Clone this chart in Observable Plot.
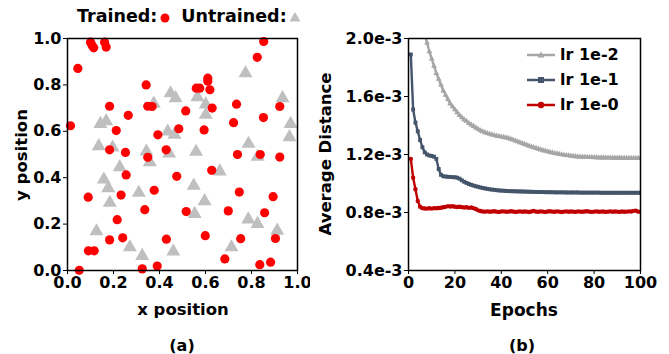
<!DOCTYPE html>
<html><head><meta charset="utf-8">
<script src="https://cdn.jsdelivr.net/npm/d3@7"></script>
<script src="https://cdn.jsdelivr.net/npm/@observablehq/plot@0.6"></script>
<style>
body{margin:0;background:#fff;}
#wrap{position:relative;width:669px;height:354px;font-family:"DejaVu Sans",sans-serif;font-weight:bold;color:#000;overflow:hidden;background:#fff}
#left{position:absolute;left:0;top:0}
#right{position:absolute;left:310px;top:0}
.t{position:absolute;white-space:nowrap;transform:translate(-50%,-50%);line-height:1}
.leg{position:absolute;white-space:nowrap;font-size:16px;line-height:1;display:flex;align-items:center}
</style></head>
<body>
<div id="wrap">
  <div id="left"></div>
  <div id="right"></div>
</div>
<script>
// ---- Panel (a): scatter of positions ----
const trainedX = [0.100,0.107,0.114,0.161,0.168,0.045,0.342,0.183,0.349,0.368,0.264,0.013,0.212,0.393,0.484,0.183,0.252,0.429,0.349,0.853,0.825,0.610,0.610,0.560,0.575,0.619,0.514,0.629,0.735,0.923,0.852,0.722,0.594,0.739,0.838,0.923,0.255,0.475,0.090,0.233,0.377,0.336,0.216,0.183,0.240,0.430,0.091,0.116,0.051,0.325,0.390,0.627,0.747,0.894,0.516,0.699,0.857,0.599,0.753,0.904,0.684,0.836,0.883];
const trainedY = [0.984,0.970,0.960,0.984,0.963,0.871,0.800,0.708,0.708,0.707,0.669,0.624,0.603,0.585,0.611,0.520,0.509,0.520,0.488,0.987,0.919,0.829,0.816,0.786,0.786,0.779,0.688,0.700,0.717,0.707,0.659,0.637,0.606,0.500,0.500,0.489,0.412,0.406,0.316,0.325,0.346,0.262,0.219,0.132,0.141,0.135,0.085,0.085,0.001,0.007,0.019,0.432,0.338,0.318,0.254,0.257,0.249,0.150,0.137,0.138,0.050,0.025,0.036];
const untrainedX = [0.448,0.470,0.375,0.143,0.168,0.136,0.196,0.343,0.442,0.436,0.465,0.774,0.565,0.601,0.601,0.935,0.970,0.965,0.787,0.559,0.358,0.227,0.158,0.177,0.184,0.310,0.126,0.271,0.325,0.460,0.827,0.662,0.549,0.596,0.553,0.786,0.826,0.912,0.713];
const untrainedY = [0.764,0.743,0.719,0.632,0.644,0.536,0.530,0.513,0.504,0.599,0.585,0.850,0.747,0.716,0.671,0.743,0.632,0.575,0.546,0.512,0.467,0.445,0.392,0.355,0.292,0.335,0.169,0.100,0.063,0.082,0.491,0.427,0.366,0.299,0.244,0.220,0.201,0.172,0.100];
const posTicks = [0, 0.2, 0.4, 0.6, 0.8, 1.0];
const posTickLabels = ["0.0","0.2","0.4","0.6","0.8","1.0"];

// ---- Panel (b): average distance per epoch (units of 1e-3) ----
const epochs = d3.range(1, 101);
const lr1e2 = [2.50,2.41,2.32,2.24,2.16,2.09,2.03,1.97,1.91,1.86,
1.81,1.76,1.72,1.68,1.64,1.61,1.58,1.55,1.53,1.51,
1.49,1.47,1.455,1.44,1.43,1.415,1.405,1.395,1.385,1.375,
1.365,1.358,1.352,1.346,1.341,1.336,1.332,1.328,1.325,1.322,
1.319,1.316,1.312,1.307,1.301,1.295,1.289,1.283,1.277,1.271,
1.265,1.259,1.253,1.248,1.243,1.238,1.233,1.228,1.224,1.220,
1.216,1.212,1.208,1.205,1.202,1.199,1.196,1.194,1.192,1.190,
1.188,1.186,1.185,1.184,1.183,1.182,1.181,1.180,1.180,1.179,
1.179,1.178,1.178,1.178,1.177,1.177,1.177,1.176,1.176,1.176,
1.176,1.175,1.175,1.175,1.175,1.174,1.174,1.174,1.174,1.174];
const lr1e1 = [1.89,1.51,1.42,1.36,1.30,1.25,1.215,1.20,1.193,1.19,
1.185,1.17,1.10,1.06,1.05,1.048,1.046,1.045,1.044,1.043,
1.040,1.033,1.022,1.012,1.004,0.997,0.991,0.986,0.981,0.977,
0.973,0.969,0.966,0.963,0.960,0.958,0.956,0.954,0.952,0.951,
0.950,0.949,0.948,0.947,0.947,0.946,0.946,0.945,0.945,0.944,
0.944,0.943,0.943,0.942,0.942,0.941,0.941,0.941,0.940,0.940,
0.940,0.940,0.939,0.939,0.939,0.939,0.939,0.938,0.938,0.938,
0.938,0.938,0.938,0.937,0.937,0.937,0.937,0.937,0.937,0.937,
0.937,0.937,0.936,0.936,0.936,0.936,0.936,0.936,0.936,0.936,
0.936,0.936,0.936,0.936,0.936,0.936,0.936,0.936,0.936,0.936];
const lr1e0 = [1.17,1.04,0.96,0.88,0.84,0.830,0.828,0.827,0.829,0.827,
0.830,0.829,0.831,0.833,0.836,0.839,0.844,0.841,0.843,0.840,
0.838,0.840,0.837,0.834,0.836,0.832,0.834,0.830,0.824,0.815,
0.810,0.807,0.806,0.808,0.805,0.807,0.809,0.806,0.804,0.807,
0.808,0.805,0.806,0.809,0.807,0.804,0.806,0.808,0.805,0.807,
0.806,0.803,0.807,0.811,0.806,0.805,0.808,0.806,0.804,0.807,
0.809,0.806,0.805,0.808,0.806,0.803,0.806,0.808,0.805,0.807,
0.806,0.804,0.808,0.806,0.805,0.807,0.809,0.806,0.804,0.806,
0.808,0.805,0.806,0.807,0.804,0.806,0.808,0.805,0.807,0.806,
0.804,0.807,0.805,0.806,0.808,0.807,0.811,0.813,0.806,0.805];
const seriesNames = ["lr 1e-2","lr 1e-1","lr 1e-0"];
const seriesColors = ["#a6a6a6","#44546a","#c00000"];
const seriesSymbols = ["triangle","square","circle"];
const epochTicks = [0,20,40,60,80,100];
const distTicks = [0.4,0.8,1.2,1.6,2.0];
const distTickLabels = ["0.4e-3","0.8e-3","1.2e-3","1.6e-3","2.0e-3"];

const FONT = "DejaVu Sans, sans-serif";
const trained = trainedX.map((x,i)=>({x, y: trainedY[i]}));
const untrained = untrainedX.map((x,i)=>({x, y: untrainedY[i]}));

const left = Plot.plot({
  width: 310, height: 320,
  marginLeft: 67, marginRight: 13, marginTop: 38, marginBottom: 50,
  style: {fontFamily: FONT, fontSize: "16px", fontWeight: "bold", color: "#000", background: "#fff", overflow: "visible"},
  x: {domain: [0,1]},
  y: {domain: [0,1]},
  marks: [
    Plot.dot(untrained, {x:"x", y:"y", symbol:"triangle", r:5.2, fill:"#bfbfbf"}),
    Plot.dot(trained, {x:"x", y:"y", r:4.6, fill:"#ff0000"}),
    Plot.frame({stroke:"#000", strokeWidth:1.5}),
    Plot.axisX({ticks: posTicks, tickFormat: (d,i)=>posTickLabels[i], tickSize: 4, tickPadding: 2, label: null, fontSize: 16}),
    Plot.axisY({ticks: posTicks, tickFormat: (d,i)=>posTickLabels[i], tickSize: 4, tickPadding: 2, label: null, fontSize: 16})
  ]
});
document.getElementById("left").appendChild(left);

const lineData = [];
[lr1e2, lr1e1, lr1e0].forEach((arr, s) => arr.forEach((v,i)=>lineData.push({series: seriesNames[s], epoch: epochs[i], value: v})));

const right = Plot.plot({
  width: 359, height: 320,
  marginLeft: 98, marginRight: 29, marginTop: 38, marginBottom: 50,
  style: {fontFamily: FONT, fontSize: "16px", fontWeight: "bold", color: "#000", background: "#fff", overflow: "visible"},
  x: {domain: [0,100]},
  y: {domain: [0.4,2.0]},
  color: {domain: seriesNames, range: seriesColors},
  symbol: {domain: seriesNames, range: seriesSymbols},
  marks: [
    Plot.line(lineData, {x:"epoch", y:"value", z:"series", stroke:"series", strokeWidth:2.4, clip:true}),
    Plot.dot(lineData, {x:"epoch", y:"value", fill:"series", symbol:"series", r:2.2, clip:true}),
    Plot.frame({stroke:"#000", strokeWidth:1.5}),
    Plot.axisX({ticks: epochTicks, tickSize: 4, tickPadding: 2, label: null, fontSize: 16}),
    Plot.axisY({ticks: distTicks, tickFormat: (d,i)=>distTickLabels[i], tickSize: 4, tickPadding: 2, label: null, fontSize: 16})
  ]
});
document.getElementById("right").appendChild(right);

// force tick label font on every svg text element
document.querySelectorAll("#wrap svg text").forEach(t => {
  t.style.fontSize = "16px";
  t.style.fontFamily = "'DejaVu Sans', sans-serif";
  t.style.fontWeight = "bold";
});

// Text labels and legends
const wrap = document.getElementById("wrap");
function addText(txt, x, y, size, rot) {
  const d = document.createElement("div");
  d.className = "t";
  d.textContent = txt;
  d.style.left = x + "px"; d.style.top = y + "px"; d.style.fontSize = size + "px";
  if (rot) d.style.transform = "translate(-50%,-50%) rotate(-90deg)";
  wrap.appendChild(d);
}
addText("x position", 183, 310, 16.5);
addText("y position", 22, 155, 16.5, true);
addText("(a)", 182, 346, 16);
addText("Epochs", 524, 310, 17);
addText("Average Distance", 326, 154, 16.5, true);
addText("(b)", 522, 346, 16);

// top legend panel (a)
const lg = document.createElement("div");
lg.className = "leg";
lg.style.left = "77px"; lg.style.top = "8px"; lg.style.fontSize = "17.5px";
lg.innerHTML = 'Trained:<svg width="14" height="14" style="margin-left:1px"><circle cx="7" cy="8" r="4.5" fill="#ff0000"/></svg>' +
  '<span style="margin-left:9px">Untrained:</span><svg width="14" height="14" style="margin-left:1px"><path d="M7,2 L12.5,11.5 L1.5,11.5 Z" fill="#bfbfbf"/></svg>';
wrap.appendChild(lg);

// legend panel (b)
const symPaths = [
  '<path d="M14,3.5 L17.5,9.5 L10.5,9.5 Z" fill="#a6a6a6"/>',
  '<rect x="11" y="4" width="6" height="6" fill="#44546a"/>',
  '<circle cx="14" cy="7" r="3.2" fill="#c00000"/>'
];
seriesNames.forEach((name, i) => {
  const e = document.createElement("div");
  e.className = "leg";
  e.style.left = "527px"; e.style.top = (47 + i*25) + "px";
  e.innerHTML = `<svg width="28" height="14"><line x1="0" y1="7" x2="28" y2="7" stroke="${seriesColors[i]}" stroke-width="2.5"/>${symPaths[i]}</svg><span style="margin-left:5px">${name}</span>`;
  wrap.appendChild(e);
});
</script>
</body></html>
